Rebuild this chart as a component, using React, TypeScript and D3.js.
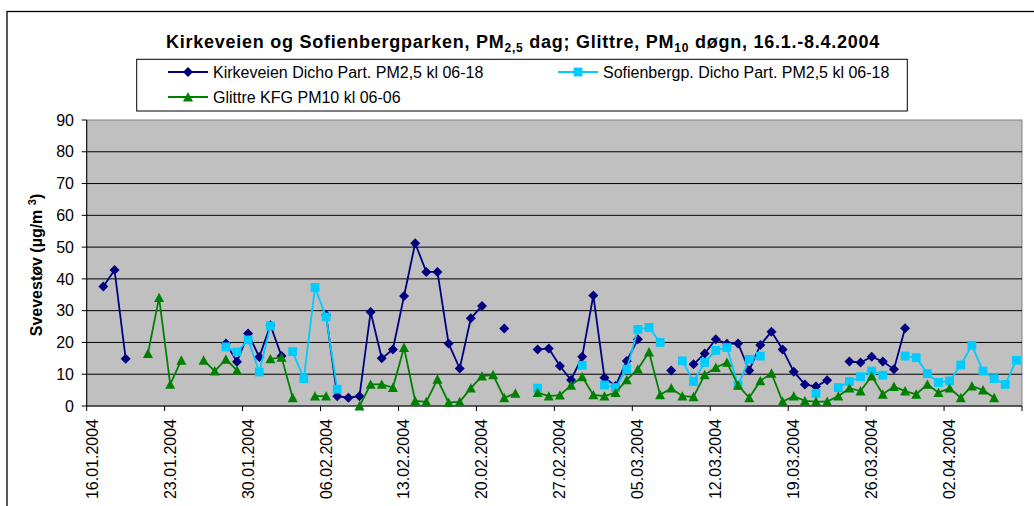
import React from "react";
import * as d3 from "d3";

const tickLabels = ["16.01.2004","23.01.2004","30.01.2004","06.02.2004","13.02.2004","20.02.2004","27.02.2004","05.03.2004","12.03.2004","19.03.2004","26.03.2004","02.04.2004"];
const tickDays = [0, 7, 14, 21, 28, 35, 42, 49, 56, 63, 70, 77, 84];
const nDays = 84;
const yTicks = [0, 10, 20, 30, 40, 50, 60, 70, 80, 90];

const kirkeveien: (number | null)[] = [
  null, 37.6, 42.8, 14.9, null, null, null, null, null, null, null, null,
  19.7, 13.9, 22.8, 15.4, 25.4, 15.7, null, null, null,
  28.6, 3.1, 2.6, 3.1, 29.6, 15.0, 17.8, 34.6, 51.2, 42.2, 42.2, 19.7, 11.8, 27.6, 31.5,
  null, 24.4, null, null,
  17.8, 18.1, 12.6, 8.2, 15.5, 34.8, 8.9, 6.3, 14.2, 21.0,
  null, null, 11.2, null,
  13.1, 16.5, 21.0, 19.6, 19.7, 11.2, 19.2, 23.4, 17.8, 10.8, 6.8, 6.1, 8.1,
  null, 14.0, 13.7, 15.5, 14.0, 11.6, 24.5,
  null, null, null, null, null, null, null, null, null, null,
];

const sofienberg: (number | null)[] = [
  null, null, null, null, null, null, null, null, null, null, null, null,
  18.6, 17.0, 20.8, 10.7, 25.2, null, 17.1, 8.6, 37.3, 28.0, 5.3,
  null, null, null, null, null, null, null, null, null, null, null, null, null, null, null, null, null,
  5.6,
  null, null, null,
  12.8,
  null,
  6.6, 5.8, 11.6, 24.1, 24.7, 20.0,
  null,
  14.2, 7.7, 13.7, 17.5, 18.4, 6.5, 14.7, 15.7,
  null, null, null, null,
  4.0,
  null,
  5.8, 7.7, 9.2, 11.0, 9.7,
  null,
  15.7, 15.2, 10.2, 7.4, 7.9, 12.9, 19.1, 11.0, 8.6, 6.8, 14.4,
];

const glittre: (number | null)[] = [
  null, null, null, null, null,
  16.5, 34.1, 6.8, 14.4,
  null,
  14.4, 11.0, 14.7, 11.2,
  null, null,
  14.8, 15.3, 2.6,
  null,
  3.1, 3.1,
  null, null,
  0, 6.8, 6.8, 5.8, 18.4, 1.6, 1.3, 8.4, 1.1, 1.3, 5.6, 9.4, 9.8, 2.6, 4.0,
  null,
  4.2, 3.1, 3.4, 6.5, 9.2, 3.5, 3.1, 4.2, 8.2, 11.6, 17.0, 3.5, 5.6, 3.1, 2.9, 9.8, 12.1, 13.7, 6.5, 2.6, 7.9, 10.3, 1.4, 3.1, 1.6, 1.4, 1.4, 3.1, 5.6, 4.7, 9.4, 3.7, 6.1, 4.7, 3.7, 6.8, 4.2, 5.6, 2.6, 6.3, 5.0, 2.6,
  null, null,
];

const seriesNames = [
  "Kirkeveien Dicho Part. PM2,5 kl 06-18",
  "Sofienbergp. Dicho Part. PM2,5 kl 06-18",
  "Glittre KFG PM10 kl 06-06",
];

const FONT = "'Liberation Sans', Arial, sans-serif";
const W = 1034, H = 506;
const PL = 86.7, PR = 1022, PT = 120, PB = 406;

const NAVY = "#000080", CYAN = "#00CCFF", GREEN = "#008000";

type Shape = "diamond" | "square" | "triangle";

function markerPath(shape: Shape): string {
  if (shape === "diamond") return "M0,-5L5,0L0,5L-5,0Z";
  if (shape === "square") return "M-4.4,-4.4H4.4V4.4H-4.4Z";
  return "M0,-5L5,4.4L-5,4.4Z";
}

export default function App() {
  const x = d3.scaleLinear().domain([0, nDays]).range([PL, PR]);
  const y = d3.scaleLinear().domain([0, 90]).range([PB, PT]);
  const px = (i: number) => x(i + 0.5);

  const series = [
    { name: seriesNames[0], data: kirkeveien, color: NAVY, shape: "diamond" as Shape },
    { name: seriesNames[1], data: sofienberg, color: CYAN, shape: "square" as Shape },
    { name: seriesNames[2], data: glittre, color: GREEN, shape: "triangle" as Shape },
  ];

  const line = d3
    .line<number | null>()
    .defined((d) => d !== null)
    .x((_, i) => px(i))
    .y((d) => y(d as number));

  return (
    <svg
      width={W}
      height={H}
      style={{ position: "absolute", left: 0, top: 0, background: "#fff" }}
      fontFamily={FONT}
    >
      <rect x={7} y={11.5} width={1100} height={600} fill="#fff" stroke="#000" strokeWidth={1.3} />

      {/* Title */}
      <text x={523} y={48} textAnchor="middle" fontWeight="bold" fontSize={18} letterSpacing={0.75} fill="#000">
        Kirkeveien og Sofienbergparken, PM
        <tspan fontSize={12} dy={4}>2,5</tspan>
        <tspan dy={-4}> dag; Glittre, PM</tspan>
        <tspan fontSize={12} dy={4}>10</tspan>
        <tspan dy={-4}> døgn, 16.1.-8.4.2004</tspan>
      </text>

      {/* Legend */}
      <rect x={136.7} y={59.3} width={770.6} height={51.7} fill="#fff" stroke="#000" strokeWidth={1} />
      {[
        { s: series[0], lx: 168, ly: 72 },
        { s: series[1], lx: 558, ly: 72 },
        { s: series[2], lx: 168, ly: 97 },
      ].map(({ s, lx, ly }, k) => (
        <g key={k}>
          <line x1={lx} x2={lx + 40} y1={ly} y2={ly} stroke={s.color} strokeWidth={1.8} />
          <path d={markerPath(s.shape)} transform={`translate(${lx + 20},${ly})`} fill={s.color} />
          <text x={lx + 45} y={ly + 5.5} fontSize={16} fill="#000">{s.name}</text>
        </g>
      ))}

      {/* Plot area */}
      <rect x={PL} y={PT} width={PR - PL} height={PB - PT} fill="#C0C0C0" stroke="#808080" strokeWidth={1} />
      {yTicks.filter((t) => t > 0 && t < 90).map((t) => (
        <line key={t} x1={PL} x2={PR} y1={y(t)} y2={y(t)} stroke="#000" strokeWidth={1} />
      ))}

      {/* Y axis */}
      <line x1={PL} x2={PL} y1={PT} y2={PB} stroke="#000" strokeWidth={1} />
      {yTicks.map((t) => (
        <g key={t}>
          <line x1={PL - 5} x2={PL} y1={y(t)} y2={y(t)} stroke="#000" strokeWidth={1} />
          <text x={74} y={y(t) + 5.7} textAnchor="end" fontSize={16} fill="#000">{t}</text>
        </g>
      ))}
      <text
        transform={`translate(42,265) rotate(-90)`}
        textAnchor="middle"
        fontWeight="bold"
        fontSize={16}
        fill="#000"
      >
        Svevestøv (µg/m <tspan fontSize={11} dy={-6}>3</tspan><tspan dy={6}>)</tspan>
      </text>

      {/* X axis */}
      <line x1={PL} x2={PR} y1={PB} y2={PB} stroke="#000" strokeWidth={1} />
      {tickDays.map((d) => (
        <line key={d} x1={x(d)} x2={x(d)} y1={PB} y2={PB + 5} stroke="#000" strokeWidth={1} />
      ))}
      {tickLabels.map((lab, k) => (
        <text
          key={lab}
          transform={`translate(${x(tickDays[k]) + 11},419) rotate(-90)`}
          textAnchor="end"
          fontSize={16}
          fill="#000"
        >
          {lab}
        </text>
      ))}

      {/* Series */}
      {series.map((s, k) => (
        <g key={k}>
          <path d={line(s.data) || ""} fill="none" stroke={s.color} strokeWidth={1.8} />
          {s.data.map((v, i) =>
            v === null ? null : (
              <path key={i} d={markerPath(s.shape)} transform={`translate(${px(i)},${y(v)})`} fill={s.color} />
            )
          )}
        </g>
      ))}
    </svg>
  );
}
